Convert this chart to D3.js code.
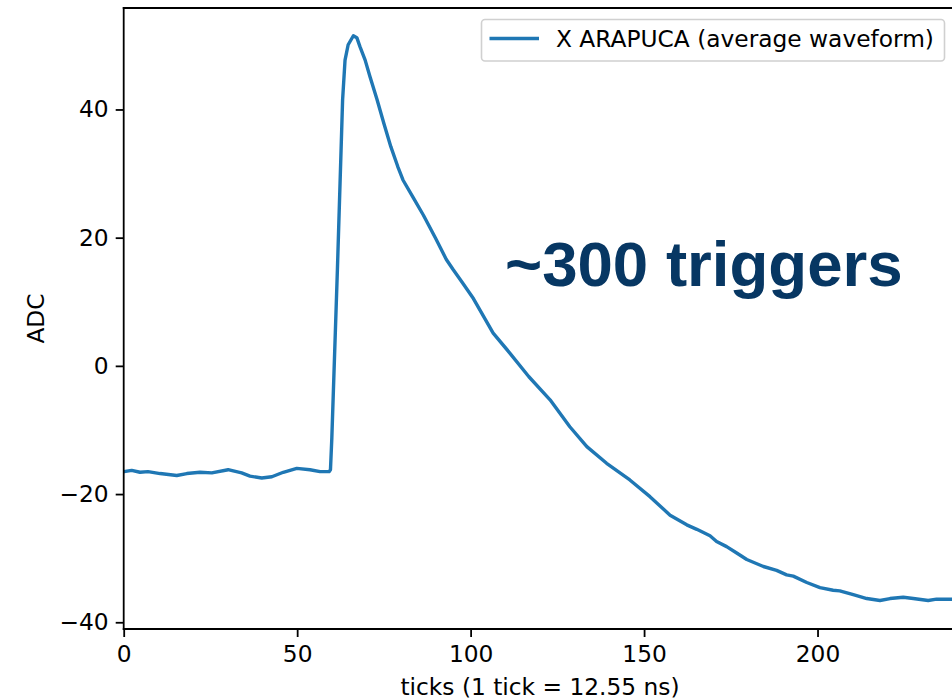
<!DOCTYPE html>
<html>
<head>
<meta charset="utf-8">
<script src="https://cdn.jsdelivr.net/npm/d3@7"></script>
<style>
  html, body { margin: 0; padding: 0; background: #fff; }
  svg { display: block; }
</style>
</head>
<body>
<div id="chart"></div>
<script>
// waveform (ticks, ADC)
const ticks = [
  0, 2.3, 4.7, 7, 10.5, 15.3, 18.2, 22, 25.4, 30.1, 34, 36.4, 39.8, 42.7,
  46, 49.9, 53.7, 56.6, 59.2, 59.6, 60.0, 61.6, 63.1, 63.8, 64.7, 66.2, 67.2,
  68.1, 69.6, 71, 73, 75, 77, 79, 80.5, 83.5, 86.4, 89.9, 93, 95, 97.5,
  100.8, 102.7, 106.5, 111.3, 116.8, 122.9, 128.6, 133.5, 139.2, 145.9,
  151.7, 157.5, 162.3, 165.2, 169, 170.9, 173.8, 176.7, 179.6, 184.4,
  188.2, 191.1, 193, 196.9, 200.7, 204.5, 206.4, 210.3, 214.2, 218, 220.9,
  224.7, 227.6, 231.9, 234.3, 240
];
const adc = [
  -16.5, -16.3, -16.6, -16.5, -16.8, -17.1, -16.8, -16.6, -16.7, -16.2,
  -16.7, -17.2, -17.5, -17.3, -16.6, -16.0, -16.2, -16.5, -16.5, -16.2,
  -11.2, 15.0, 41.5, 47.7, 50.1, 51.5, 51.2,
  49.8, 47.7, 45.1, 41.6, 37.8, 34.2, 31.1, 29.0, 26.2, 23.5, 19.9, 16.6,
  15.0, 13.1, 10.5, 8.7, 5.1, 2.0, -1.7, -5.3, -9.5, -12.6, -15.2, -17.8,
  -20.4, -23.3, -24.8, -25.5, -26.5, -27.4, -28.2, -29.2, -30.2, -31.3,
  -31.9, -32.6, -32.8, -33.8, -34.6, -35.0, -35.1, -35.7, -36.3, -36.6,
  -36.3, -36.1, -36.3, -36.6, -36.4, -36.4
];
const xTicks = [0, 50, 100, 150, 200];
const yTicks = [-40, -20, 0, 20, 40];
const seriesLabel = 'X ARAPUCA (average waveform)';
const xLabel = 'ticks (1 tick = 12.55 ns)';
const yLabel = 'ADC';
const note = '~300 triggers';

const W = 952;
const H = 699;
const fontSize = 23.3;
const tickLen = 8;
const plot = { left: 123.7, right: 956.3, top: 8, bottom: 629 };

const x = d3.scaleLinear().domain([0, 240]).range([plot.left, plot.right]);
const y = d3.scaleLinear().domain([-41.05, 55.83]).range([plot.bottom, plot.top]);

const svg = d3.select('#chart').append('svg')
  .attr('width', W)
  .attr('height', H)
  .style('font-family', '"DejaVu Sans", sans-serif');

svg.append('clipPath').attr('id', 'clip')
  .append('rect')
  .attr('x', plot.left)
  .attr('y', plot.top)
  .attr('width', plot.right - plot.left)
  .attr('height', plot.bottom - plot.top);

const data = ticks.map((t, i) => ({ x: t, y: adc[i] }));

const line = d3.line()
  .x(d => x(d.x))
  .y(d => y(d.y));

svg.append('path')
  .datum(data)
  .attr('clip-path', 'url(#clip)')
  .attr('fill', 'none')
  .attr('stroke', '#1f77b4')
  .attr('stroke-width', 3.4)
  .attr('stroke-linejoin', 'round')
  .attr('stroke-linecap', 'square')
  .attr('d', line);

// axes
const xAxis = d3.axisBottom(x)
  .tickValues(xTicks)
  .tickSizeInner(tickLen)
  .tickSizeOuter(0)
  .tickPadding(7);

const yAxis = d3.axisLeft(y)
  .tickValues(yTicks)
  .tickSizeInner(tickLen)
  .tickSizeOuter(0)
  .tickPadding(7)
  .tickFormat(d => (d < 0 ? '\u2212' + Math.abs(d) : d));

const xAx = svg.append('g')
  .attr('transform', `translate(0,${plot.bottom})`)
  .call(xAxis);

const yAx = svg.append('g')
  .attr('transform', `translate(${plot.left},0)`)
  .call(yAxis);

[xAx, yAx].forEach(ax => {
  ax.select('.domain').remove();
  ax.selectAll('line').attr('stroke', '#000').attr('stroke-width', 1.8);
  ax.selectAll('text')
    .attr('fill', '#000')
    .style('font-size', `${fontSize}px`)
    .style('font-family', '"DejaVu Sans", sans-serif');
});
xAx.selectAll('text').attr('dy', '0.76em');

// spines
svg.append('line')
  .attr('x1', plot.left).attr('x2', plot.left)
  .attr('y1', plot.top).attr('y2', plot.bottom)
  .attr('stroke', '#000').attr('stroke-width', 1.8)
  .attr('stroke-linecap', 'square');
svg.append('line')
  .attr('x1', plot.left).attr('x2', plot.right)
  .attr('y1', plot.bottom).attr('y2', plot.bottom)
  .attr('stroke', '#000').attr('stroke-width', 1.8)
  .attr('stroke-linecap', 'square');
svg.append('line')
  .attr('x1', plot.left).attr('x2', plot.right)
  .attr('y1', plot.top).attr('y2', plot.top)
  .attr('stroke', '#000').attr('stroke-width', 1.8)
  .attr('stroke-linecap', 'square');

// axis labels
svg.append('text')
  .attr('x', (plot.left + plot.right) / 2)
  .attr('y', 695)
  .attr('text-anchor', 'middle')
  .style('font-size', `${fontSize}px`)
  .text(xLabel);

svg.append('text')
  .attr('transform', `translate(43.5,${(plot.top + plot.bottom) / 2}) rotate(-90)`)
  .attr('text-anchor', 'middle')
  .style('font-size', `${fontSize}px`)
  .text(yLabel);

// legend
const legend = svg.append('g');
legend.append('rect')
  .attr('x', 481.5).attr('y', 19.5)
  .attr('width', 463).attr('height', 41.5)
  .attr('rx', 3.5)
  .attr('fill', 'rgba(255,255,255,0.8)')
  .attr('stroke', '#d0d0d0')
  .attr('stroke-width', 1.6);
legend.append('line')
  .attr('x1', 489.5).attr('x2', 539)
  .attr('y1', 38.5).attr('y2', 38.5)
  .attr('stroke', '#1f77b4')
  .attr('stroke-width', 3.4);
legend.append('text')
  .attr('x', 556)
  .attr('y', 46.5)
  .style('font-size', `${fontSize}px`)
  .attr('fill', '#000')
  .text(seriesLabel);

// annotation
svg.append('text')
  .attr('x', 505)
  .attr('y', 286)
  .style('font-family', '"Liberation Sans", Arial, sans-serif')
  .style('font-weight', 'bold')
  .style('font-size', '63.6px')
  .attr('fill', '#073763')
  .text(note);
</script>
</body>
</html>
